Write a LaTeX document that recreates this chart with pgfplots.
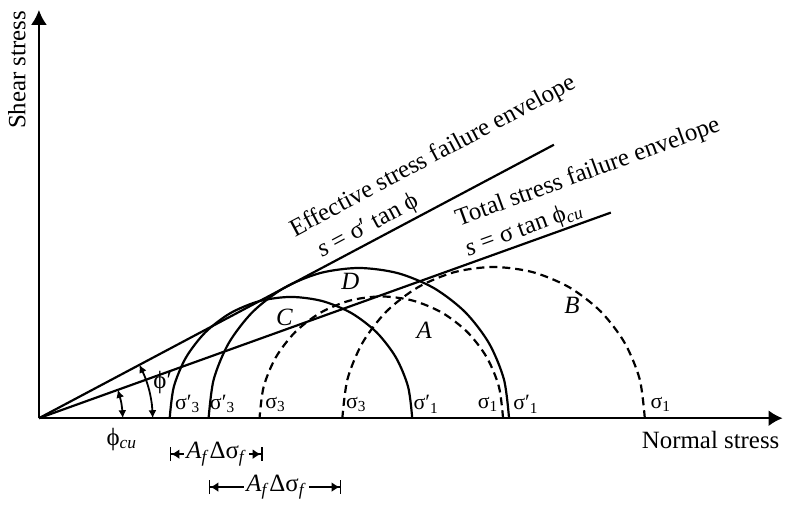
\documentclass[border=0pt]{standalone}
\usepackage{fontspec}
\setmainfont{Liberation Serif}
\usepackage{pgfplots}
\pgfplotsset{compat=1.18}
\usetikzlibrary{arrows.meta}
\newcommand{\lab}{\fontsize{12.5}{14}\selectfont}
\newcommand{\sml}{\fontsize{11}{12}\selectfont}
\begin{document}
\begin{tikzpicture}
\begin{axis}[
  scale only axis, width=393bp, height=254bp,
  xmin=-39, xmax=747, ymin=-89, ymax=419,
  hide axis, clip=false,
  every axis plot/.append style={black, line width=1.1bp},
]
\path (-39,-89) rectangle (747,419);
% axes
\addplot[black, line width=1bp, -{Latex[length=7.5bp,width=8bp]}] coordinates {(0,0) (0,409)};
\addplot[black, line width=1bp, -{Latex[length=7bp,width=8bp]}] coordinates {(0,0) (745,0)};
% failure envelopes
\addplot[black] coordinates {(0,0) (516,274)};
\addplot[black] coordinates {(0,0) (573,206)};
% circle C (effective, solid)
\addplot[black, smooth] coordinates {
 (374,0) (369.86,31.44) (357.72,60.75) (338.41,85.91) (313.25,105.22) (283.94,117.36) (252.5,121.5)
 (221.06,117.36) (191.75,105.22) (166.59,85.91) (147.28,60.75) (135.14,31.44) (131,0)};
% circle D (effective, solid)
\addplot[black, smooth] coordinates {
 (471,0) (465.87,38.95) (450.84,75.25) (426.92,106.42) (395.75,130.34) (359.45,145.37) (320.5,150.5)
 (281.55,145.37) (245.25,130.34) (214.08,106.42) (190.16,75.25) (175.13,38.95) (170,0)};
% circle A (total, dashed)
\addplot[black, smooth, dash pattern=on 4bp off 2.5bp] coordinates {
 (465,0) (460.84,31.57) (448.65,61) (429.27,86.27) (404,105.65) (374.57,117.84) (343,122)
 (311.43,117.84) (282,105.65) (256.73,86.27) (237.35,61) (225.16,31.57) (221,0)};
% circle B (total, dashed)
\addplot[black, smooth, dash pattern=on 4bp off 2.5bp] coordinates {
 (607,0) (601.84,39.21) (586.70,75.75) (562.63,107.13) (531.25,131.20) (494.71,146.34) (455.5,151.5)
 (416.29,146.34) (379.80,131.20) (348.37,107.13) (324.30,75.75) (309.16,39.21) (304,0)};
% angle arcs
\addplot[black, smooth, line width=0.9bp, {Latex[length=4bp,width=4bp]}-{Latex[length=4bp,width=4bp]}] coordinates {
 (114,0) (113.15,13.89) (110.61,27.58) (106.43,40.85) (100.66,53.52)};
\addplot[black, smooth, line width=0.9bp, {Latex[length=4bp,width=4bp]}-{Latex[length=4bp,width=4bp]}] coordinates {
 (84,0) (82.72,14.59) (79.04,28.45)};
% A_f delta sigma_f dimensions
\addplot[black, line width=0.9bp, {Bar[width=7bp]Latex[length=4bp,width=5bp]}-{Latex[length=4bp,width=5bp]Bar[width=7bp]}] coordinates {(131,-36) (224,-36)};
\addplot[black, line width=0.9bp, {Bar[width=7bp]Latex[length=4bp,width=5bp]}-{Latex[length=4bp,width=5bp]Bar[width=7bp]}] coordinates {(170,-69) (303,-69)};
\node[fill=white, inner sep=1bp, font=\lab] at (178,-36) {\textit{A}\textsubscript{\textit{f}}Δσ\textsubscript{\textit{f}}};
\node[fill=white, inner sep=1bp, font=\lab] at (238,-69) {\textit{A}\textsubscript{\textit{f}}Δσ\textsubscript{\textit{f}}};
% axis titles
\node[rotate=90, font=\lab] at (-22,349) {Shear stress};
\node[font=\lab] at (673,-22) {Normal stress};
% envelope labels
\node[rotate=28, font=\lab] at (395,262) {Effective stress failure envelope};
\node[rotate=28, font=\lab] at (330,192) {\textit{s} = σ′ tan ϕ};
\node[rotate=20, font=\lab] at (550,246) {Total stress failure envelope};
\node[rotate=20, font=\lab] at (486,189) {\textit{s} = σ tan ϕ\textsubscript{\textit{cu}}};
% circle labels
\node[font=\lab\itshape] at (312,137) {D};
\node[font=\lab\itshape] at (246,101) {C};
\node[font=\lab\itshape] at (386,88) {A};
\node[font=\lab\itshape] at (534,113) {B};
% angle labels
\node[font=\lab] at (124,36) {ϕ′};
\node[font=\lab] at (83,-21) {ϕ\textsubscript{\textit{cu}}};
% stress labels
\node[font=\sml] at (149,14) {σ′\textsubscript{3}};
\node[font=\sml] at (184,14) {σ′\textsubscript{3}};
\node[font=\sml] at (237,14) {σ\textsubscript{3}};
\node[font=\sml] at (318,14) {σ\textsubscript{3}};
\node[font=\sml] at (388,14) {σ′\textsubscript{1}};
\node[font=\sml] at (450,14) {σ\textsubscript{1}};
\node[font=\sml] at (488,14) {σ′\textsubscript{1}};
\node[font=\sml] at (623,14) {σ\textsubscript{1}};
\end{axis}
\end{tikzpicture}
\end{document}
